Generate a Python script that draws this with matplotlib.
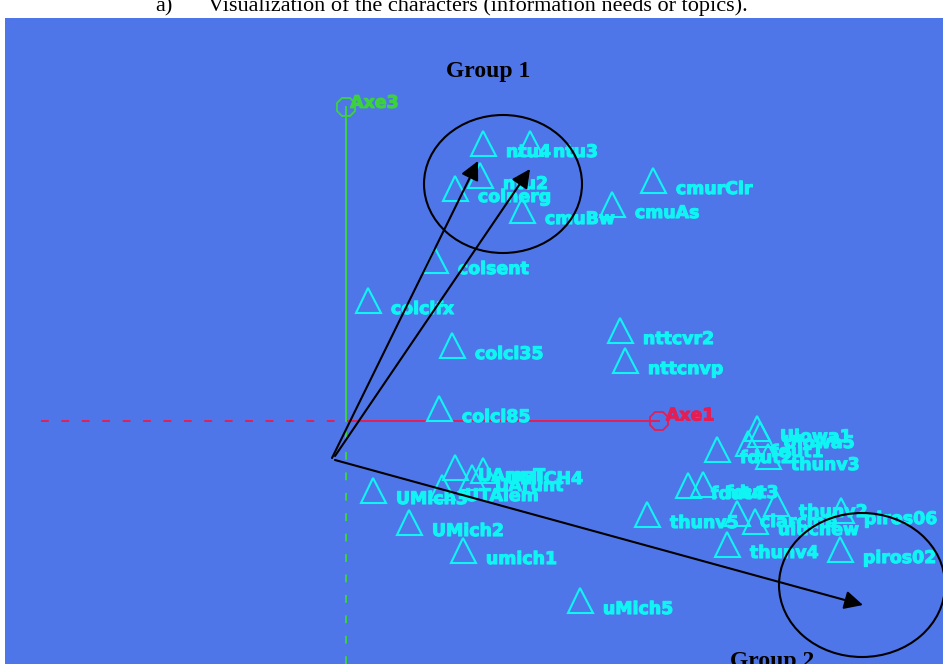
import matplotlib
matplotlib.use("Agg")
import matplotlib.pyplot as plt
import matplotlib.patheffects as pe
from matplotlib.patches import Ellipse

# topic runs projected on the (Axe1, Axe3) plane
names = ["ntu4", "ntu3", "ntu2", "colnerg", "cmuBw", "cmuAs", "cmurClr",
         "colsent", "colclfx", "colcl35", "colcl85", "nttcvr2", "nttcnvp",
         "UMich3", "UMich2", "umich1", "uMich5", "UAmsT", "UArunt", "UMICH4", "UTAlem",
         "fdut2", "Uiowa1", "Uiowa5", "fdut1", "thunv3", "fdut4", "fdut3", "thunv5",
         "clarcmb", "thunv2", "uiucnew", "piros06", "thunv4", "piros02"]
axe1 = [1.37, 1.84, 1.34, 1.09, 1.76, 2.66, 3.07,
        0.89, 0.22, 1.06, 0.93, 2.74, 2.79,
        0.27, 0.63, 1.17, 2.34, 1.09, 1.26, 1.37, 0.96,
        3.71, 4.11, 4.14, 4.02, 4.22, 3.42, 3.57, 3.01,
        3.91, 4.30, 4.09, 4.95, 3.81, 4.94]
axe3 = [2.78, 2.78, 2.46, 2.33, 2.11, 2.17, 2.41,
        1.61, 1.21, 0.76, 0.13, 0.91, 0.61,
        -0.69, -1.01, -1.29, -1.79, -0.46, -0.56, -0.49, -0.66,
        -0.28, -0.07, -0.13, -0.22, -0.35, -0.64, -0.63, -0.93,
        -0.92, -0.82, -1.00, -0.89, -1.23, -1.28]

axe1_end = 3.13
axe3_end = 3.14

# arrows pointing to the two groups
arrow_start = [(-0.14, -0.37), (-0.11, -0.35), (-0.11, -0.39)]
arrow_end = [(1.32, 2.60), (1.84, 2.52), (5.17, -1.84)]

# groups (center, width, height)
groups = ["Group 1", "Group 2"]
group_center = [(1.57, 2.37), (5.16, -1.64)]
group_size = [(1.58, 1.38), (1.66, 1.44)]
group_label_pos = [(1.42, 3.49), (4.26, -2.40)]

blue = "#4F76E8"
cyan = "#10F4F4"
red = "#E41E55"
green = "#3CD23C"

fig = plt.figure(figsize=(9.43, 6.64), dpi=100)
fig.text(155 / 943, 1 - 11 / 664, "a)", family="Liberation Serif", fontsize=16, va="baseline")
fig.text(208 / 943, 1 - 11 / 664, "Visualization of the characters (information needs or topics).",
         family="Liberation Serif", fontsize=16, va="baseline")

ax = fig.add_axes([5 / 943, 0, 938 / 943, 646 / 664])
ax.set_facecolor(blue)
ax.set_xlim(-3.41, 5.97)
ax.set_ylim(-2.43, 4.03)
ax.set_xticks([])
ax.set_yticks([])
for s in ax.spines.values():
    s.set_visible(False)

# axes of the projection
ax.plot([0, axe1_end], [0, 0], color=red, lw=1.4)
ax.plot([-3.05, 0], [0, 0], color=red, lw=1.4, ls=(0, (4, 6.5)))
ax.plot([0, 0], [0, axe3_end], color=green, lw=1.4)
ax.plot([0, 0], [-2.43, 0], color=green, lw=1.4, ls=(0, (4, 6.5)))
ax.plot([axe1_end], [0], marker="8", ms=13.5, mfc="none", mec=red, mew=1.3)
ax.plot([0], [axe3_end], marker="8", ms=13.5, mfc="none", mec=green, mew=1.3)
ax.annotate("Axe1", (axe1_end, 0), xytext=(5, 4), textcoords="offset points",
            color=red, fontsize=12.5, fontweight="bold", va="center",
            path_effects=[pe.withStroke(linewidth=0.8, foreground=red)])
ax.annotate("Axe3", (0, axe3_end), xytext=(3, 3), textcoords="offset points",
            color=green, fontsize=12.5, fontweight="bold", va="center",
            path_effects=[pe.withStroke(linewidth=0.8, foreground=green)])

# topics
ax.plot(axe1, axe3, ls="none", marker="^", ms=18, mfc="none", mec=cyan, mew=1.5)
for n, x, y in zip(names, axe1, axe3):
    ax.annotate(n, (x, y), xytext=(16.5, -6.5), textcoords="offset points",
                color=cyan, fontsize=12.5, fontweight="bold", va="center", ha="left",
                path_effects=[pe.withStroke(linewidth=0.8, foreground=cyan)])

# groups
for (cx, cy), (w, h) in zip(group_center, group_size):
    ax.add_patch(Ellipse((cx, cy), w, h, fill=False, ec="black", lw=1.5, zorder=5))
for g, (gx, gy) in zip(groups, group_label_pos):
    ax.text(gx, gy, g, family="Liberation Serif", fontsize=17, fontweight="bold",
            ha="center", va="center", zorder=6)

for s, e in zip(arrow_start, arrow_end):
    ax.annotate("", xy=e, xytext=s,
                arrowprops=dict(arrowstyle="-|>", color="black", lw=1.5,
                                mutation_scale=28, shrinkA=0, shrinkB=0), zorder=6)

fig.savefig("out.png", dpi=100)
